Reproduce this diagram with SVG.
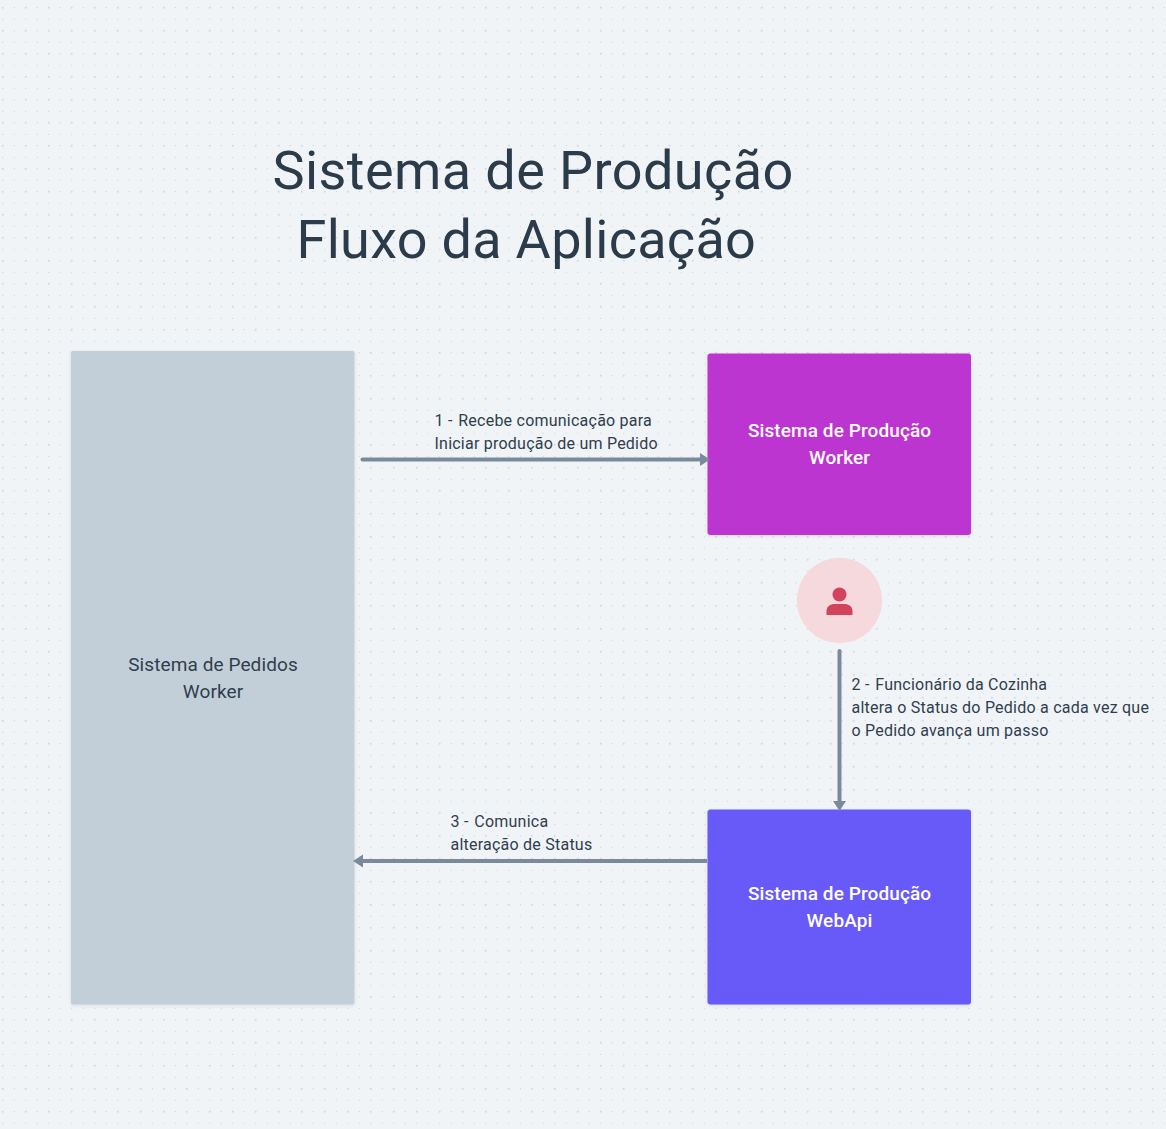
<svg xmlns="http://www.w3.org/2000/svg" width="1166" height="1129" viewBox="0 0 1166 1129">
<defs>
<pattern id="dots" x="0" y="0" width="23" height="23" patternUnits="userSpaceOnUse">
<rect x="1.8" y="6.8" width="1.8" height="1.8" fill="#cfd9e3"/>
<rect x="13.8" y="7.2" width="1" height="1" fill="#bfcad5"/>
<rect x="2" y="18.9" width="1.4" height="0.9" fill="#cdd7e1"/>
<rect x="13.8" y="18.9" width="0.9" height="0.9" fill="#bfcad5"/>
</pattern>
<filter id="sh" x="-5%" y="-5%" width="110%" height="110%"><feDropShadow dx="0" dy="1" stdDeviation="1.5" flood-color="#2b3a4a" flood-opacity="0.15"/></filter>
</defs>
<style>
text{font-family:"Roboto","Liberation Sans",sans-serif;}
.title{font-size:54px;fill:#2b3b4a;letter-spacing:.42px}
.lab{font-size:16px;fill:#2f3e4e;letter-spacing:.23px}
.node{font-size:19px;font-weight:500;fill:#fff;text-anchor:middle;letter-spacing:.1px}
.node2{font-size:19px;fill:#2f3e4e;text-anchor:middle;letter-spacing:.1px}
.conn{stroke:#7b8a9a;stroke-width:4;fill:none;stroke-linecap:round}
.head{fill:#7b8a9a}
</style>
<rect width="1166" height="1129" fill="#f1f4f7"/>
<rect width="1166" height="1129" fill="url(#dots)"/>
<g id="title"><text class="title" x="272.500" y="189">Sistema de Produção</text><text class="title" x="296.500" y="258" style="letter-spacing:.3px">Fluxo da Aplicação</text></g>
<g id="pedidos"><rect x="71" y="351" width="283.500" height="653.500" rx="2" fill="#c3cfd8" filter="url(#sh)"/><text class="node2" x="213" y="671">Sistema de Pedidos</text><text class="node2" x="213" y="698">Worker</text></g>
<g id="worker"><rect x="707.500" y="353.500" width="263.500" height="181.500" rx="3" fill="#bd34d1" filter="url(#sh)"/><text class="node" x="839.500" y="437">Sistema de Produção</text><text class="node" x="839.500" y="464">Worker</text></g>
<g id="funcionario"><circle cx="839.500" cy="600.500" r="42.700" fill="#f6d9dd"/><circle cx="839.500" cy="594.500" r="7" fill="#d2445b"/><path d="M826.500 614.500v-3.500c0-4.500 4-7 8-7h10c4 0 8 2.500 8 7v3.500c0 .3-.3.5-.5.5h-25c-.3 0-.5-.2-.5-.5z" fill="#d2445b"/></g>
<g id="webapi"><rect x="707.500" y="809.500" width="263.500" height="195" rx="3" fill="#675af8" filter="url(#sh)"/><text class="node" x="839.500" y="900">Sistema de Produção</text><text class="node" x="839.500" y="927">WebApi</text></g>
<g id="connectors">
<line class="conn" x1="362.500" y1="459.500" x2="702" y2="459.500"/><path class="head" d="M700 453L710 459.500L700 466Z"/>
<line class="conn" x1="839.500" y1="651" x2="839.500" y2="802"/><path class="head" d="M833 801L839.500 811L846 801Z"/>
<line class="conn" x1="707" y1="861" x2="361" y2="861" style="stroke-linecap:butt"/><path class="head" d="M363 854.500L353 861L363 867.500Z"/>
</g>
<g id="labels">
<text class="lab" x="434.500" y="426">1 -<tspan dx="1.500"> Recebe comunicação para</tspan></text><text class="lab" x="434.500" y="449">Iniciar produção de um Pedido</text>
<text class="lab" x="851.500" y="690">2 -<tspan dx="1.500"> Funcionário da Cozinha</tspan></text><text class="lab" x="851.500" y="713">altera o Status do Pedido a cada vez que</text><text class="lab" x="851.500" y="736">o Pedido avança um passo</text>
<text class="lab" x="450.500" y="827">3 -<tspan dx="1.500"> Comunica</tspan></text><text class="lab" x="450.500" y="850">alteração de Status</text>
</g>
</svg>
